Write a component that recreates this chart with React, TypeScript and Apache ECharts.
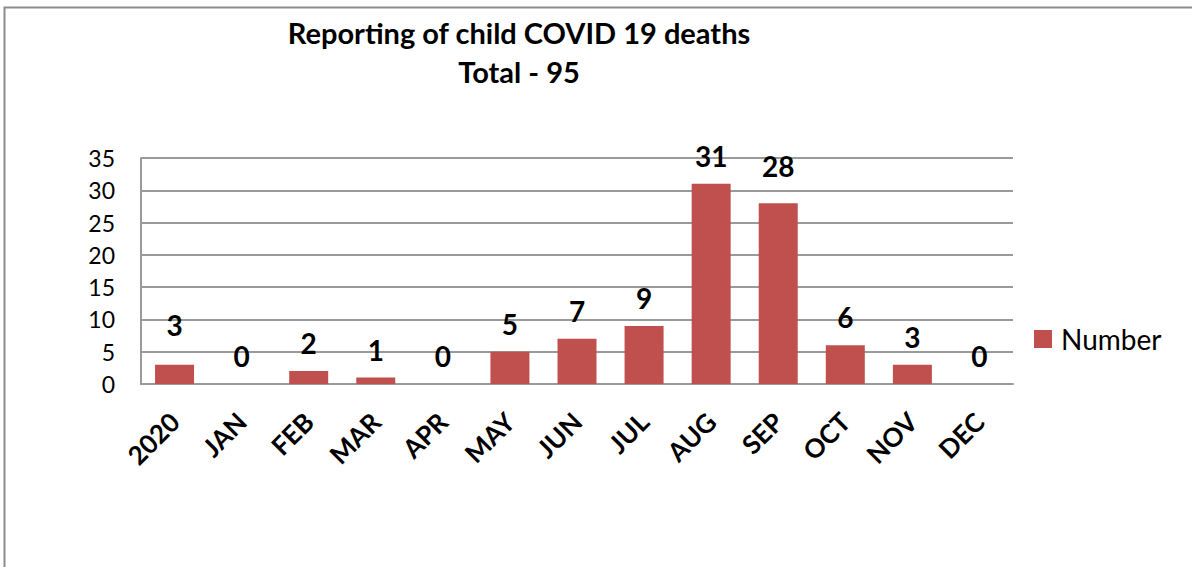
import React, { useEffect, useRef } from "react";
import * as echarts from "echarts";

const categories = ["2020", "JAN", "FEB", "MAR", "APR", "MAY", "JUN", "JUL", "AUG", "SEP", "OCT", "NOV", "DEC"];
const numberValues = [3, 0, 2, 1, 0, 5, 7, 9, 31, 28, 6, 3, 0];
const seriesName = "Number";
const titleLines = ["Reporting of child COVID 19 deaths", "Total - 95"];
const yMin = 0;
const yMax = 35;
const yInterval = 5;

const FONT = "Lato, 'Open Sans', sans-serif";
const labelLift: Record<number, number> = { 0: -12, 9: -9 };

export default function App() {
  const ref = useRef<HTMLDivElement>(null);
  useEffect(() => {
    if (!ref.current) return;
    const chart = echarts.init(ref.current, null, { renderer: "svg" });
    const data = numberValues.map((v, i) =>
      labelLift[i] !== undefined ? { value: v, label: { offset: [0, labelLift[i]] } } : v
    );
    chart.setOption({
      animation: false,
      backgroundColor: "#ffffff",
      title: {
        text: titleLines.join("\n"),
        left: 519,
        top: 13,
        padding: 0,
        textAlign: "center",
        textStyle: {
          fontFamily: FONT,
          fontWeight: "bold",
          fontSize: 29,
          lineHeight: 39,
          color: "#000",
        },
      },
      legend: {
        data: [seriesName],
        left: 1034,
        top: 325,
        padding: 0,
        itemWidth: 18,
        itemHeight: 18,
        icon: "rect",
        itemGap: 8,
        textStyle: { fontFamily: FONT, fontSize: 28, color: "#000", padding: [0, 0, 0, 4] },
      },
      grid: { left: 141, right: 179, top: 158, bottom: 183, containLabel: false },
      xAxis: {
        type: "category",
        data: categories,
        axisLine: { lineStyle: { color: "#9a9a9a", width: 2 } },
        axisTick: { show: false },
        axisLabel: {
          rotate: 45,
          margin: 33,
          fontFamily: FONT,
          fontWeight: "bold",
          fontSize: 26,
          color: "#000",
          interval: 0,
        },
      },
      yAxis: {
        type: "value",
        min: yMin,
        max: yMax,
        interval: yInterval,
        axisLine: { show: true, lineStyle: { color: "#9a9a9a", width: 2 } },
        axisTick: { show: false },
        splitLine: { lineStyle: { color: "#9a9a9a", width: 2 } },
        axisLabel: { margin: 26, fontFamily: FONT, fontSize: 23, color: "#000" },
      },
      series: [
        {
          name: seriesName,
          type: "bar",
          data,
          barWidth: 39,
          itemStyle: { color: "#C0504D" },
          label: {
            show: true,
            position: "top",
            distance: 14,
            fontFamily: FONT,
            fontWeight: "bold",
            fontSize: 28,
            color: "#000",
          },
        },
      ],
      graphic: [
        {
          type: "rect",
          shape: { x: 4.5, y: 7.5, width: 1300, height: 700 },
          style: { fill: "none", stroke: "#8c8c8c", lineWidth: 2 },
          silent: true,
        },
      ],
    });
    return () => chart.dispose();
  }, []);
  return (
    <div
      ref={ref}
      style={{ position: "fixed", left: 0, top: 0, width: 1192, height: 567 }}
    />
  );
}
